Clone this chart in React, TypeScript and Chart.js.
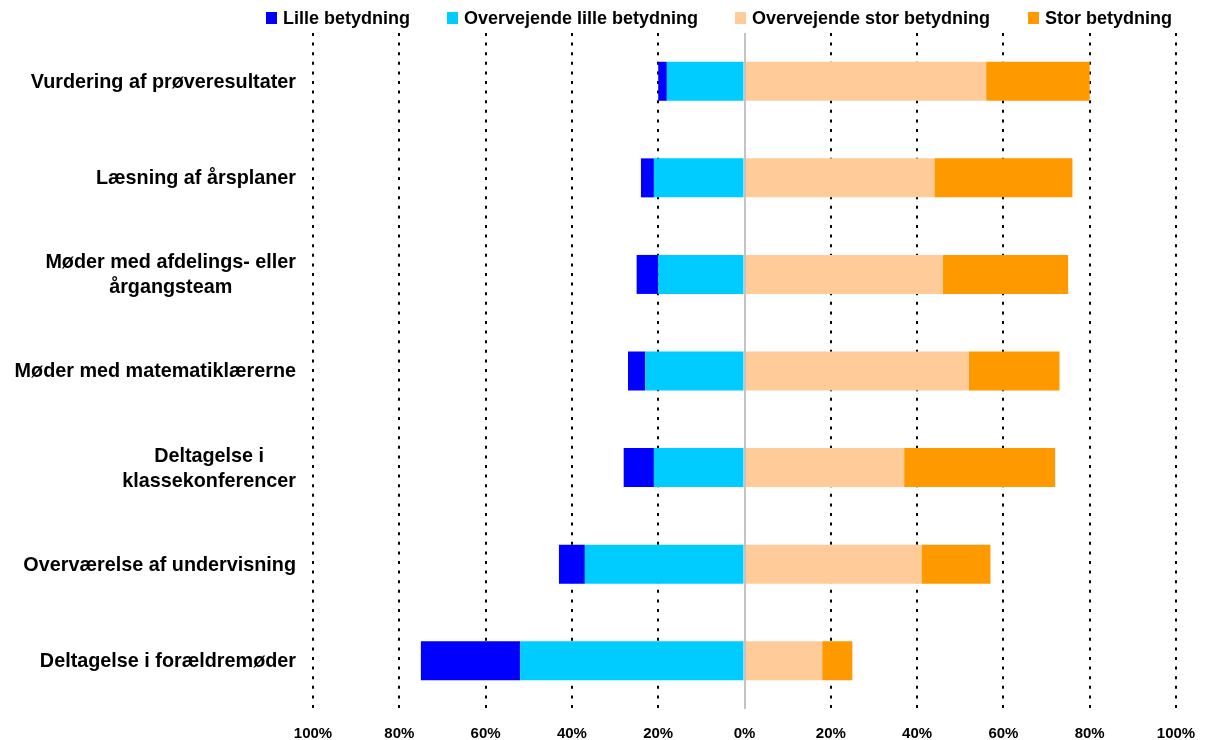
import React, { useEffect, useRef } from 'react';
import { Chart, registerables } from 'chart.js';

Chart.register(...registerables);

// Activities (top to bottom)
const categories: (string | string[])[] = [
  'Vurdering af prøveresultater',
  'Læsning af årsplaner',
  ['Møder med afdelings- eller', 'årgangsteam'],
  'Møder med matematiklærerne',
  ['Deltagelse i', 'klassekonferencer'],
  'Overværelse af undervisning',
  'Deltagelse i forældremøder',
];

// Answer categories, in legend order
const seriesNames = [
  'Lille betydning',
  'Overvejende lille betydning',
  'Overvejende stor betydning',
  'Stor betydning',
];
const seriesColors = ['#0000FF', '#00CCFF', '#FFCC99', '#FF9900'];

// Shares in percent
const lilleBetydning = [2, 3, 5, 4, 7, 6, 23];
const overvejendeLille = [18, 21, 20, 23, 21, 37, 52];
const overvejendeStor = [56, 44, 46, 52, 37, 41, 18];
const storBetydning = [24, 32, 29, 21, 35, 16, 7];

// Axis range and tick spacing
const xMin = -100;
const xMax = 100;
const xStep = 20;

const FONT = '"Liberation Sans", Arial, Helvetica, sans-serif';

// Legend row above the plot (left edge of each swatch)
const legendSwatchX = [266, 447, 735, 1028];

const topLegend = {
  id: 'topLegend',
  afterDraw(chart: any) {
    const { ctx } = chart;
    ctx.save();
    ctx.font = `bold 18px ${FONT}`;
    ctx.textBaseline = 'middle';
    ctx.textAlign = 'left';
    const box = 11;
    const gapBoxText = 6;
    const cy = 18.5;
    seriesNames.forEach((name, i) => {
      const x = legendSwatchX[i];
      ctx.fillStyle = seriesColors[i];
      ctx.fillRect(x, 12, box, 12);
      ctx.fillStyle = '#000000';
      ctx.fillText(name, x + box + gapBoxText, cy + 1);
    });
    ctx.restore();
  },
};

// Category labels: block right-aligned, lines centred within the block
const categoryLabels = {
  id: 'categoryLabels',
  afterDraw(chart: any) {
    const { ctx } = chart;
    const yScale = chart.scales.y;
    const rightEdge = chart.chartArea.left - 17;
    const lineH = 25;
    ctx.save();
    ctx.font = `bold 19.8px ${FONT}`;
    ctx.fillStyle = '#000000';
    ctx.textBaseline = 'middle';
    ctx.textAlign = 'center';
    categories.forEach((cat, i) => {
      const lines = Array.isArray(cat) ? cat : [cat];
      const maxW = Math.max(...lines.map((l) => ctx.measureText(l).width));
      const cx = rightEdge - maxW / 2;
      const cy = yScale.getPixelForValue(i);
      const y0 = cy - ((lines.length - 1) * lineH) / 2;
      lines.forEach((l, k) => ctx.fillText(l, cx, y0 + k * lineH + 1));
    });
    ctx.restore();
  },
};

// Grey zero line drawn on top of the bars
const zeroLine = {
  id: 'zeroLine',
  afterDatasetsDraw(chart: any) {
    const { ctx, chartArea } = chart;
    const x = Math.round(chart.scales.x.getPixelForValue(0));
    ctx.save();
    ctx.strokeStyle = '#c4c4c4';
    ctx.lineWidth = 2;
    ctx.beginPath();
    ctx.moveTo(x, chartArea.top);
    ctx.lineTo(x, chartArea.bottom);
    ctx.stroke();
    ctx.restore();
  },
};

export default function App() {
  const canvasRef = useRef<HTMLCanvasElement | null>(null);

  useEffect(() => {
    if (!canvasRef.current) return;
    const labels = categories.map((c) => (Array.isArray(c) ? c.join(' ') : c));
    const bar = { categoryPercentage: 1, barPercentage: 0.404, borderWidth: 0 };
    const chart = new Chart(canvasRef.current, {
      type: 'bar',
      data: {
        labels,
        // negative side is stacked outward from zero: "overvejende lille" first, then "lille"
        datasets: [
          { label: seriesNames[1], data: overvejendeLille.map((v) => -v), backgroundColor: seriesColors[1], ...bar },
          { label: seriesNames[0], data: lilleBetydning.map((v) => -v), backgroundColor: seriesColors[0], ...bar },
          { label: seriesNames[2], data: overvejendeStor, backgroundColor: seriesColors[2], ...bar },
          { label: seriesNames[3], data: storBetydning, backgroundColor: seriesColors[3], ...bar },
        ],
      },
      options: {
        indexAxis: 'y',
        animation: false,
        responsive: false,
        layout: { padding: { top: 33, right: 30, bottom: 0, left: 0 } },
        plugins: {
          legend: { display: false },
          tooltip: { enabled: false },
        },
        scales: {
          x: {
            stacked: true,
            min: xMin,
            max: xMax,
            afterFit: (s: any) => {
              s.height = 31;
              s.paddingLeft = 0;
              s.paddingRight = 0;
            },
            ticks: {
              stepSize: xStep,
              padding: 16,
              color: '#000000',
              font: { family: FONT, size: 15, weight: 'bold' },
              callback: (v: any) => `${Math.abs(Number(v))}%`,
            },
            grid: {
              drawTicks: false,
              color: (c: any) => (c.tick && c.tick.value === 0 ? 'rgba(0,0,0,0)' : '#000000'),
              lineWidth: 2,
            },
            border: { display: false, dash: [3, 6.6] },
          },
          y: {
            stacked: true,
            afterFit: (s: any) => {
              s.width = 313;
            },
            ticks: { display: false },
            grid: { display: false },
            border: { display: false },
          },
        },
      },
      plugins: [topLegend, categoryLabels, zeroLine],
    });
    return () => chart.destroy();
  }, []);

  return (
    <div style={{ position: 'fixed', left: 0, top: 0, width: 1206, height: 740, background: '#ffffff' }}>
      <canvas ref={canvasRef} width={1206} height={740} />
    </div>
  );
}
